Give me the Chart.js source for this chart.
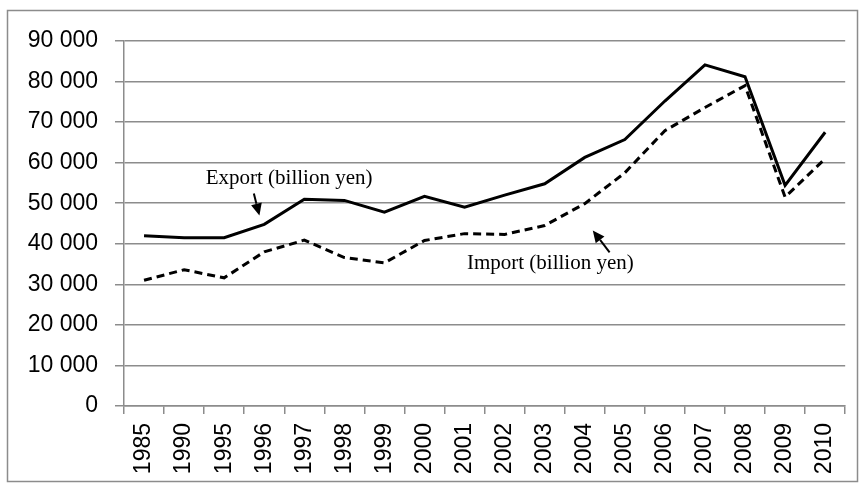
<!DOCTYPE html>
<html lang="en">
<head>
  <meta charset="UTF-8">
  <title>Export and Import (billion yen)</title>
  <script src="https://cdn.jsdelivr.net/npm/chart.js"></script>
  <style>
    html, body { margin: 0; padding: 0; background: #fff; }
    #wrap { width: 862px; height: 488px; }
  </style>
</head>
<body>
  <div id="wrap"><canvas id="tradeChart" width="862" height="488"></canvas></div>

  <script>
    // data
    const years = ['1985', '1990', '1995', '1996', '1997', '1998', '1999', '2000', '2001',
                   '2002', '2003', '2004', '2005', '2006', '2007', '2008', '2009', '2010'];
    const exportVals = [42000, 41500, 41500, 44800, 51000, 50700, 47800, 51700, 49000,
                        52000, 54800, 61300, 65700, 75200, 84100, 81200, 54400, 67500];
    const importVals = [31000, 33600, 31600, 38000, 40900, 36600, 35300, 40800, 42500,
                        42300, 44500, 49900, 57500, 67900, 73600, 79000, 51500, 61000];
    const yTicks = [0, 10000, 20000, 30000, 40000, 50000, 60000, 70000, 80000, 90000];

    const gridGray = '#8c8c8c';
    const axisFont = { family: '"Liberation Sans", Arial, sans-serif', size: 23 };

    // text labels with arrows, positioned in data units (category index, value)
    const notes = [
      { text: 'Export (billion yen)', at: [3.62, 56100], from: [2.74, 52400], to: [2.88, 47000] },
      { text: 'Import (billion yen)', at: [10.14, 35200], from: [11.62, 37900], to: [11.2, 43300] }
    ];

    const framePlugin = {
      id: 'frame',
      beforeDraw(chart) {
        const c = chart.ctx;
        c.save();
        c.strokeStyle = gridGray;
        c.lineWidth = 1.5;
        c.strokeRect(7.5, 10.5, 850, 471);
        c.restore();
      }
    };

    const notesPlugin = {
      id: 'notes',
      afterDatasetsDraw(chart) {
        const c = chart.ctx;
        const xs = chart.scales.x, ys = chart.scales.y;
        c.save();
        c.fillStyle = '#000';
        c.strokeStyle = '#000';
        c.font = '21px "Liberation Serif", "Times New Roman", serif';
        c.textAlign = 'center';
        c.textBaseline = 'middle';
        notes.forEach(n => {
          c.fillText(n.text, xs.getPixelForValue(n.at[0]), ys.getPixelForValue(n.at[1]));
          const x1 = xs.getPixelForValue(n.from[0]), y1 = ys.getPixelForValue(n.from[1]);
          const x2 = xs.getPixelForValue(n.to[0]), y2 = ys.getPixelForValue(n.to[1]);
          const ang = Math.atan2(y2 - y1, x2 - x1);
          const head = 12, half = 5.5;
          const bx = x2 - head * Math.cos(ang), by = y2 - head * Math.sin(ang);
          c.lineWidth = 2;
          c.beginPath();
          c.moveTo(x1, y1);
          c.lineTo(bx, by);
          c.stroke();
          c.beginPath();
          c.moveTo(x2, y2);
          c.lineTo(bx + half * Math.sin(ang), by - half * Math.cos(ang));
          c.lineTo(bx - half * Math.sin(ang), by + half * Math.cos(ang));
          c.closePath();
          c.fill();
        });
        c.restore();
      }
    };

    new Chart(document.getElementById('tradeChart'), {
      type: 'line',
      data: {
        labels: years,
        datasets: [
          {
            label: 'Export (billion yen)',
            data: exportVals,
            borderColor: '#000',
            borderWidth: 3,
            pointRadius: 0,
            tension: 0,
            fill: false
          },
          {
            label: 'Import (billion yen)',
            data: importVals,
            borderColor: '#000',
            borderWidth: 3,
            borderDash: [8, 5],
            pointRadius: 0,
            tension: 0,
            fill: false
          }
        ]
      },
      options: {
        responsive: false,
        animation: false,
        layout: { padding: { left: 0, top: 41, right: 9, bottom: 0 } },
        plugins: {
          legend: { display: false },
          tooltip: { enabled: false }
        },
        scales: {
          x: {
            offset: true,
            grid: {
              offset: true,
              drawOnChartArea: false,
              drawTicks: true,
              tickLength: 8,
              color: gridGray,
              lineWidth: 1.5
            },
            border: { color: gridGray, width: 1.5 },
            ticks: {
              autoSkip: false,
              maxRotation: 90,
              minRotation: 90,
              padding: 9,
              color: '#000',
              font: axisFont
            },
            afterFit(scale) { scale.height = 82; }
          },
          y: {
            min: 0,
            max: 90000,
            afterBuildTicks(scale) { scale.ticks = yTicks.map(v => ({ value: v })); },
            grid: {
              color: gridGray,
              lineWidth: 1.5,
              tickLength: 9
            },
            border: { color: gridGray, width: 1.5 },
            ticks: {
              padding: 17,
              color: '#000',
              font: axisFont,
              callback: v => v === 0 ? '0' : (v / 1000) + ' 000'
            },
            afterFit(scale) { scale.width = 124; }
          }
        }
      },
      plugins: [framePlugin, notesPlugin]
    });
  </script>
</body>
</html>
